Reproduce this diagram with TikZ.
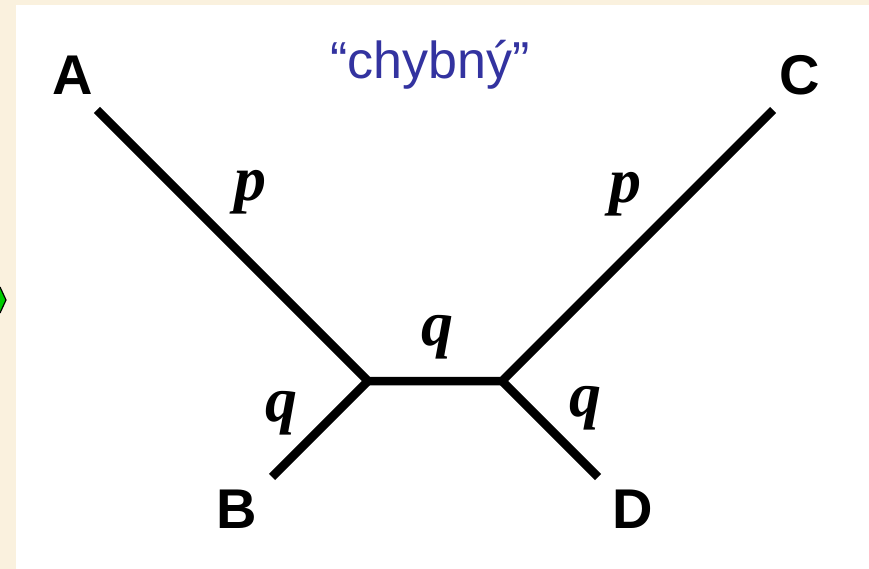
\documentclass[tikz,border=0pt]{standalone}
\usepackage{fontspec}
\setmainfont{Liberation Serif}
\newfontfamily\tipfont{Liberation Sans}
\usepackage{tikz}
\usetikzlibrary{calc}
\definecolor{paper}{RGB}{250,241,222}
\definecolor{titleblue}{RGB}{51,51,160}
\tikzset{branch/.style={line width=8.5pt,line cap=butt,line join=miter}}
\tikzset{tip/.style={inner sep=0pt,anchor=base,font=\tipfont\bfseries\fontsize{56}{60}\selectfont}}
\tikzset{len/.style={inner sep=0pt,anchor=base,font=\bfseries\itshape\fontsize{64}{66}\selectfont}}

\begin{document}
\begin{tikzpicture}[x=1pt,y=-1pt]
    \useasboundingbox (0,0) rectangle (869,569);
    \fill [paper] (0,0) rectangle (869,569);
    \fill [white] (16,5) rectangle (869,569);
    \draw [fill=green!80!black,line width=1.2pt] (0,287) -- (6,300) -- (0,313);
    \node [font=\tipfont\fontsize{52}{54}\selectfont,text=titleblue,inner sep=0pt,anchor=base] (title) at (430,79) {“chybný”};
    \coordinate (a) at (97,110);
    \coordinate (b) at (272,477);
    \coordinate (c) at (773,110);
    \coordinate (d) at (598,477);
    \coordinate (u) at (368,381);
    \coordinate (v) at (502,381);
    \draw [branch] (a) -- (u) -- (v) -- (c);
    \draw [branch] (b) -- (u);
    \draw [branch] (d) -- (v);
    \node [tip] (A) at (73,95) {A};
    \node [tip] (B) at (237,528) {B};
    \node [tip] (C) at (800,95) {C};
    \node [tip] (D) at (633,528) {D};
    \node [len] (pa) at (250,201) {p};
    \node [len] (pc) at (625,203) {p};
    \node [len] (quv) at (437,345) {q};
    \node [len] (qb) at (281,421) {q};
    \node [len] (qd) at (585,416) {q};
\end{tikzpicture}
\end{document}
